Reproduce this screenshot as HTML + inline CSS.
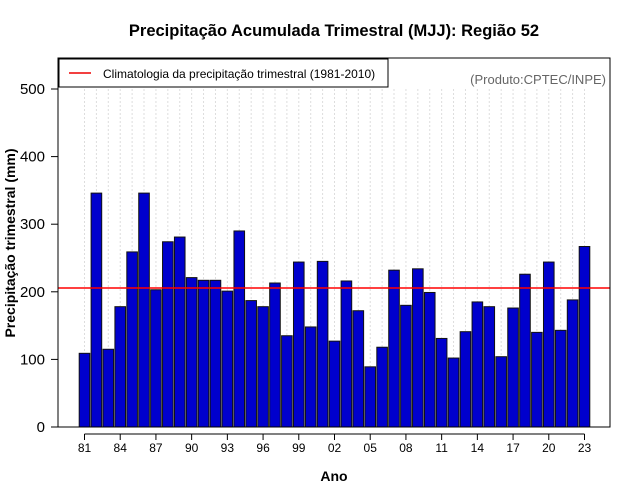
<!DOCTYPE html>
<html><head><meta charset="utf-8"><style>body{margin:0;background:#fff}svg{display:block}text{font-family:"Liberation Sans",sans-serif}</style></head>
<body>
<svg id="chart" width="640" height="500">
<text x="334" y="36" text-anchor="middle" font-size="16.5" font-weight="bold">Precipitação Acumulada Trimestral (MJJ): Região 52</text>
<text x="334" y="481" text-anchor="middle" font-size="14" font-weight="bold">Ano</text>
<text transform="translate(15,243) rotate(-90)" text-anchor="middle" font-size="14" font-weight="bold">Precipitação trimestral (mm)</text>
<text x="606" y="84" text-anchor="end" font-size="13" fill="#666">(Produto:CPTEC/INPE)</text>
<g id="grid"></g><g id="bars"></g><g id="axes"></g>
<rect x="58" y="58" width="552" height="369" fill="none" stroke="#000"/>
<g>
<rect x="59" y="59" width="329" height="28" fill="#fff" stroke="#000"/>
<line x1="69" y1="73" x2="91" y2="73" stroke="#e00" stroke-width="1.5"/>
<text x="103" y="78" font-size="12">Climatologia da precipitação trimestral (1981-2010)</text>
</g>
</svg>
<script>
const years=[];for(let y=1981;y<=2023;y++)years.push(y);
const values=[109,346,115,178,259,346,203,274,281,221,217,217,201,290,187,178,213,135,244,148,245,127,216,172,89,118,232,180,234,199,131,102,141,185,178,104,176,226,140,244,143,188,267];
const climatology=[205.6];
const yTicks=[0,100,200,300,400,500];
const xTickYears=[1981,1984,1987,1990,1993,1996,1999,2002,2005,2008,2011,2014,2017,2020,2023];
const NS="http://www.w3.org/2000/svg";
const X=i=>84.5+i*(500/42);
const Y=v=>427-v*0.676;
function mk(p,t,a){const e=document.createElementNS(NS,t);for(const k in a)e.setAttribute(k,a[k]);document.getElementById(p).appendChild(e);return e;}
years.forEach((yr,i)=>{
 const g=mk('grid','line',{x1:X(i),x2:X(i),y1:89,y2:427,stroke:'#ddd','stroke-dasharray':'2,2'});
 
 
 const b=mk('bars','rect',{x:X(i)-5.3,y:Y(values[i]),width:10.6,height:Y(0)-Y(values[i]),fill:'#0000cd',stroke:'#111','stroke-width':1});
 
 
});
const cl=mk('axes','line',{x1:58,x2:610,y1:Y(climatology[0]),y2:Y(climatology[0]),stroke:'#f00','stroke-width':1.5});


mk('axes','line',{x1:58,x2:58,y1:Y(0),y2:Y(500),stroke:'#000'});
yTicks.forEach(v=>{
 mk('axes','line',{x1:51,x2:58,y1:Y(v),y2:Y(v),stroke:'#000'});
 const t=mk('axes','text',{x:45,y:Y(v)+5,'text-anchor':'end','font-size':15});
 t.textContent=v;
 
 
});
mk('axes','line',{x1:X(0),x2:X(42),y1:434,y2:434,stroke:'#000'});
xTickYears.forEach(yr=>{
 const i=years.indexOf(yr);
 mk('axes','line',{x1:X(i),x2:X(i),y1:434,y2:440,stroke:'#000'});
 const t=mk('axes','text',{x:X(i),y:452,'text-anchor':'middle','font-size':12});
 t.textContent=String(yr).slice(2);
 
 
});
</script>
</body></html>
